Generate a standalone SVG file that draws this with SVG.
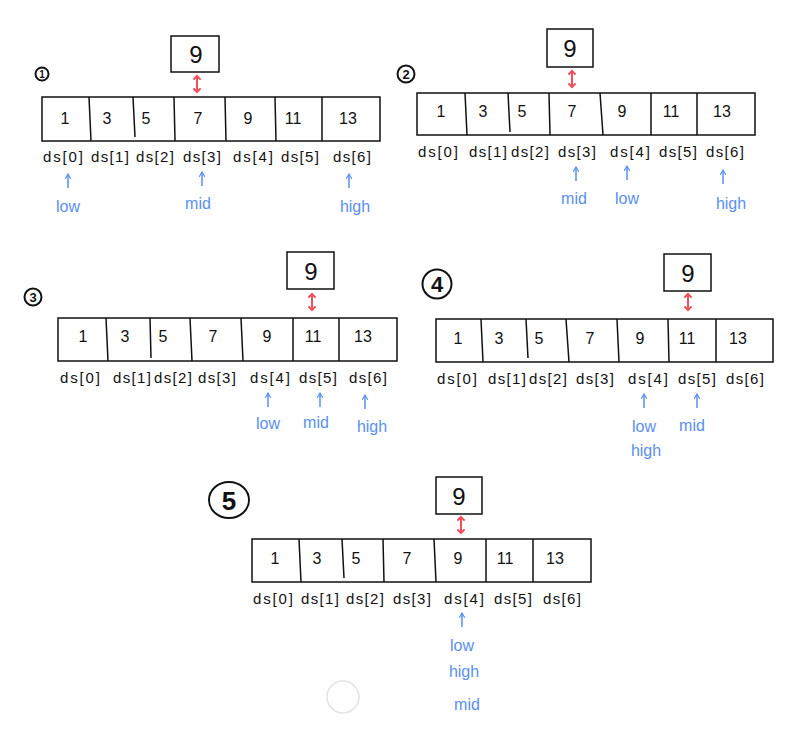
<svg xmlns="http://www.w3.org/2000/svg" width="796" height="732" viewBox="0 0 796 732">
<style>
.bg{fill:#fff}
.box{fill:#fff;stroke:#111;stroke-width:1.5}
.div{stroke:#111;stroke-width:1.5}
.val{font-family:"Liberation Sans",Arial,sans-serif;font-size:16px;fill:#111;text-anchor:middle}
.tgt{font-family:"Liberation Sans",Arial,sans-serif;font-size:24px;fill:#111;text-anchor:middle}
.idx{font-family:"Liberation Sans",Arial,sans-serif;font-size:15px;fill:#111;text-anchor:middle}
.ptr{font-family:"Liberation Sans",Arial,sans-serif;font-size:16px;fill:#5a8ff0;text-anchor:middle}
.num{font-family:"Liberation Sans",Arial,sans-serif;fill:#111;text-anchor:middle;font-weight:bold}
.ring{fill:none;stroke:#111;stroke-width:2}
.red{stroke:#f0505c;stroke-width:2;fill:none;marker-start:url(#rh);marker-end:url(#rh)}
.blue{stroke:#5a8ff0;stroke-width:1.5;fill:none;marker-end:url(#bh)}
</style>
<defs>
<marker id="rh" viewBox="0 0 10 10" refX="5" refY="5" markerWidth="9" markerHeight="9" orient="auto-start-reverse" markerUnits="userSpaceOnUse"><path d="M1,1 L5,5 L1,9" fill="none" stroke="#f0505c" stroke-width="2.2"/></marker>
<marker id="bh" viewBox="0 0 10 10" refX="9" refY="5" markerWidth="7" markerHeight="7" orient="auto" markerUnits="userSpaceOnUse"><path d="M2,1 L9,5 L2,9" fill="none" stroke="#5a8ff0" stroke-width="1.6"/></marker>
</defs>
<rect class="bg" x="0" y="0" width="796" height="732"/>

<g id="panel1">
<circle class="ring" cx="42" cy="74" r="6.5"/><text class="num" x="42" y="78" font-size="10">1</text>
<g id="p1-target"><rect class="box" x="171" y="36" width="48" height="36"/><text class="tgt" x="196" y="63">9</text></g>
<g id="p1-array">
<rect class="box" x="42" y="97" width="338" height="44"/>
<path class="div" d="M89,97 L91,141 M133,97 L135,137 M174,97 L175,141 M225,97 L226,141 M275,97 L276,141 M322,97 L322,141"/>
<text class="val" x="65" y="124">1</text><text class="val" x="107" y="124">3</text><text class="val" x="146" y="124">5</text><text class="val" x="198" y="124">7</text><text class="val" x="248" y="124">9</text><text class="val" x="293" y="124">11</text><text class="val" x="348" y="124">13</text>
</g>
<g id="p1-index">
<text class="idx" x="63" y="162" textLength="40">ds[0]</text><text class="idx" x="110" y="162" textLength="38">ds[1]</text><text class="idx" x="155" y="162" textLength="38">ds[2]</text><text class="idx" x="202" y="162" textLength="38">ds[3]</text><text class="idx" x="253" y="162" textLength="40">ds[4]</text><text class="idx" x="300" y="162" textLength="38">ds[5]</text><text class="idx" x="352" y="162" textLength="38">ds[6]</text>
</g>
<g id="p1-pointers"><text class="ptr" x="68" y="212">low</text><text class="ptr" x="198" y="209">mid</text><text class="ptr" x="355" y="212">high</text></g>
</g>

<g id="panel2">
<circle class="ring" cx="406" cy="74" r="8.5"/><text class="num" x="406" y="79" font-size="13">2</text>
<g id="p2-target"><rect class="box" x="547" y="29" width="46" height="38"/><text class="tgt" x="570" y="57">9</text></g>
<g id="p2-array">
<rect class="box" x="417" y="93" width="338" height="42"/>
<path class="div" d="M465,93 L467,135 M508,93 L510,132 M549,93 L550,135 M600,93 L603,135 M651,93 L651,135 M697,93 L697,135"/>
<text class="val" x="441" y="117">1</text><text class="val" x="483" y="117">3</text><text class="val" x="522" y="117">5</text><text class="val" x="572" y="117">7</text><text class="val" x="622" y="117">9</text><text class="val" x="671" y="117">11</text><text class="val" x="722" y="117">13</text>
</g>
<g id="p2-index">
<text class="idx" x="438" y="157" textLength="40">ds[0]</text><text class="idx" x="488" y="157" textLength="38">ds[1]</text><text class="idx" x="530" y="157" textLength="38">ds[2]</text><text class="idx" x="577" y="157" textLength="38">ds[3]</text><text class="idx" x="630" y="157" textLength="40">ds[4]</text><text class="idx" x="678" y="157" textLength="38">ds[5]</text><text class="idx" x="725" y="157" textLength="38">ds[6]</text>
</g>
<g id="p2-pointers"><text class="ptr" x="574" y="204">mid</text><text class="ptr" x="627" y="204">low</text><text class="ptr" x="731" y="209">high</text></g>
</g>

<g id="panel3">
<circle class="ring" cx="33" cy="297" r="8.5"/><text class="num" x="33" y="302" font-size="13">3</text>
<g id="p3-target"><rect class="box" x="287" y="252" width="47" height="37"/><text class="tgt" x="311" y="280">9</text></g>
<g id="p3-array">
<rect class="box" x="58" y="318" width="339" height="43"/>
<path class="div" d="M106,318 L108,361 M150,318 L151,358 M190,318 L192,361 M241,318 L243,361 M293,318 L293,361 M339,318 L339,361"/>
<text class="val" x="83" y="342">1</text><text class="val" x="125" y="342">3</text><text class="val" x="163" y="342">5</text><text class="val" x="213" y="342">7</text><text class="val" x="267" y="342">9</text><text class="val" x="313" y="342">11</text><text class="val" x="363" y="342">13</text>
</g>
<g id="p3-index">
<text class="idx" x="80" y="383" textLength="40">ds[0]</text><text class="idx" x="132" y="383" textLength="38">ds[1]</text><text class="idx" x="173" y="383" textLength="38">ds[2]</text><text class="idx" x="217" y="383" textLength="38">ds[3]</text><text class="idx" x="270" y="383" textLength="40">ds[4]</text><text class="idx" x="318" y="383" textLength="38">ds[5]</text><text class="idx" x="368" y="383" textLength="38">ds[6]</text>
</g>
<g id="p3-pointers"><text class="ptr" x="268" y="429">low</text><text class="ptr" x="316" y="428">mid</text><text class="ptr" x="372" y="432">high</text></g>
</g>

<g id="panel4">
<circle class="ring" cx="437" cy="284" r="14.5"/><text class="num" x="437" y="292" font-size="22" font-weight="normal">4</text>
<g id="p4-target"><rect class="box" x="664" y="254" width="47" height="37"/><text class="tgt" x="688" y="282">9</text></g>
<g id="p4-array">
<rect class="box" x="436" y="319" width="337" height="43"/>
<path class="div" d="M481,319 L483,362 M526,319 L528,358 M566,319 L569,362 M617,319 L619,362 M668,319 L669,362 M716,319 L716,362"/>
<text class="val" x="458" y="344">1</text><text class="val" x="499" y="344">3</text><text class="val" x="539" y="344">5</text><text class="val" x="590" y="344">7</text><text class="val" x="640" y="344">9</text><text class="val" x="687" y="344">11</text><text class="val" x="738" y="344">13</text>
</g>
<g id="p4-index">
<text class="idx" x="457" y="384" textLength="40">ds[0]</text><text class="idx" x="507" y="384" textLength="38">ds[1]</text><text class="idx" x="548" y="384" textLength="38">ds[2]</text><text class="idx" x="595" y="384" textLength="38">ds[3]</text><text class="idx" x="648" y="384" textLength="40">ds[4]</text><text class="idx" x="697" y="384" textLength="38">ds[5]</text><text class="idx" x="745" y="384" textLength="38">ds[6]</text>
</g>
<g id="p4-pointers"><text class="ptr" x="644" y="432">low</text><text class="ptr" x="646" y="456">high</text><text class="ptr" x="692" y="431">mid</text></g>
</g>

<g id="panel5">
<ellipse class="ring" cx="229" cy="500" rx="20" ry="18"/><text class="num" x="229" y="510" font-size="26" font-weight="normal">5</text>
<g id="p5-target"><rect class="box" x="436" y="477" width="46" height="37"/><text class="tgt" x="459" y="505">9</text></g>
<g id="p5-array">
<rect class="box" x="252" y="539" width="339" height="43"/>
<path class="div" d="M299,539 L301,582 M342,539 L344,578 M383,539 L384,582 M434,539 L436,582 M486,539 L486,582 M533,539 L533,582"/>
<text class="val" x="275" y="564">1</text><text class="val" x="317" y="564">3</text><text class="val" x="356" y="564">5</text><text class="val" x="407" y="564">7</text><text class="val" x="458" y="564">9</text><text class="val" x="505" y="564">11</text><text class="val" x="555" y="564">13</text>
</g>
<g id="p5-index">
<text class="idx" x="273" y="604" textLength="40">ds[0]</text><text class="idx" x="320" y="604" textLength="38">ds[1]</text><text class="idx" x="365" y="604" textLength="38">ds[2]</text><text class="idx" x="412" y="604" textLength="38">ds[3]</text><text class="idx" x="464" y="604" textLength="40">ds[4]</text><text class="idx" x="513" y="604" textLength="38">ds[5]</text><text class="idx" x="562" y="604" textLength="38">ds[6]</text>
</g>
<g id="p5-pointers"><text class="ptr" x="462" y="651">low</text><text class="ptr" x="464" y="677">high</text><text class="ptr" x="467" y="710">mid</text></g>
<circle cx="343" cy="697" r="16" fill="none" stroke="#e2e2e2" stroke-width="1.5"/>
</g>

<g id="connectors">
<line class="red" x1="197" y1="76" x2="197" y2="92"/>
<line class="red" x1="572" y1="71" x2="572" y2="87"/>
<line class="red" x1="312" y1="294" x2="312" y2="310"/>
<line class="red" x1="688" y1="294" x2="688" y2="310"/>
<line class="red" x1="461" y1="517" x2="461" y2="533"/>
<line class="blue" x1="68" y1="188" x2="68" y2="174"/>
<line class="blue" x1="202" y1="186" x2="202" y2="172"/>
<line class="blue" x1="349" y1="188" x2="349" y2="174"/>
<line class="blue" x1="576" y1="181" x2="576" y2="167"/>
<line class="blue" x1="627" y1="180" x2="627" y2="166"/>
<line class="blue" x1="723" y1="184" x2="723" y2="170"/>
<line class="blue" x1="268" y1="407" x2="268" y2="393"/>
<line class="blue" x1="320" y1="407" x2="320" y2="393"/>
<line class="blue" x1="365" y1="409" x2="365" y2="395"/>
<line class="blue" x1="644" y1="408" x2="644" y2="394"/>
<line class="blue" x1="697" y1="408" x2="697" y2="394"/>
<line class="blue" x1="462" y1="627" x2="462" y2="613"/>
</g>
</svg>
